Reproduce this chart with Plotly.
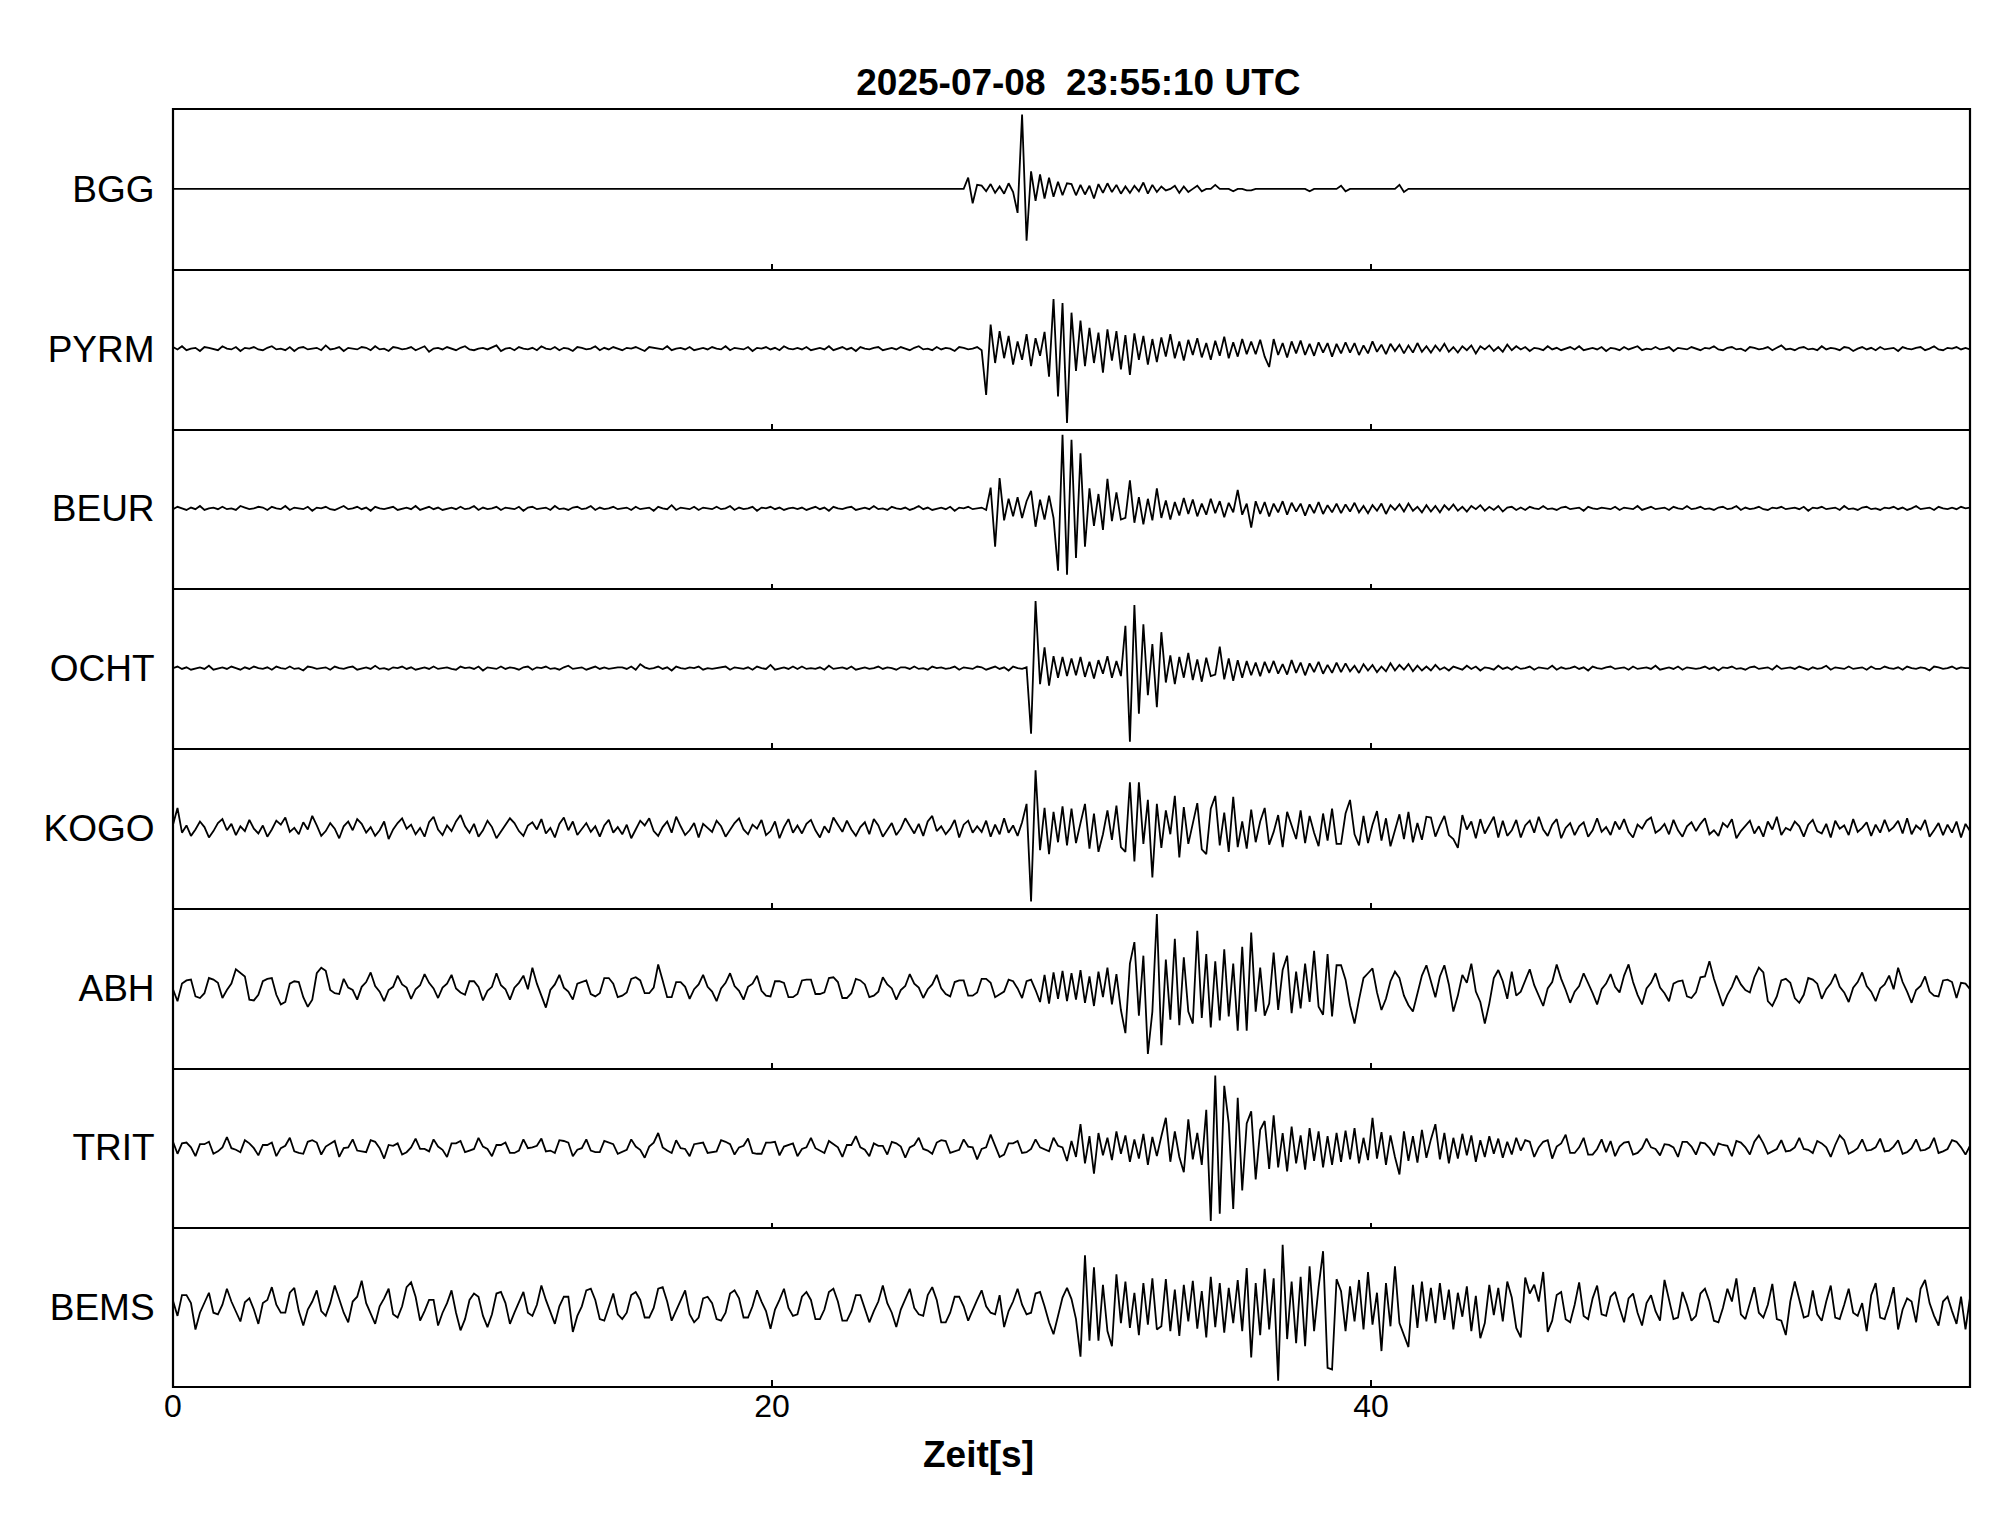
import plotly.graph_objects as go
from plotly.subplots import make_subplots

# sample spacing of the traces, seconds
DT = 0.15
STATIONS = ["BGG", "PYRM", "BEUR", "OCHT", "KOGO", "ABH", "TRIT", "BEMS"]
X_TICKS = [0, 20, 40]
TITLE = "2025-07-08\u00a0\u00a023:55:10 UTC"
X_LABEL = "Zeit[s]"

# amplitudes, percent of half a panel; one row = 3 s
BGG = [
    0, 0, 0, 0, 0, 0, 0, 0, 0, 0, 0, 0, 0, 0, 0, 0, 0, 0, 0, 0,
    0, 0, 0, 0, 0, 0, 0, 0, 0, 0, 0, 0, 0, 0, 0, 0, 0, 0, 0, 0,
    0, 0, 0, 0, 0, 0, 0, 0, 0, 0, 0, 0, 0, 0, 0, 0, 0, 0, 0, 0,
    0, 0, 0, 0, 0, 0, 0, 0, 0, 0, 0, 0, 0, 0, 0, 0, 0, 0, 0, 0,
    0, 0, 0, 0, 0, 0, 0, 0, 0, 0, 0, 0, 0, 0, 0, 0, 0, 0, 0, 0,
    0, 0, 0, 0, 0, 0, 0, 0, 0, 0, 0, 0, 0, 0, 0, 0, 0, 0, 0, 0,
    0, 0, 0, 0, 0, 0, 0, 0, 0, 0, 0, 0, 0, 0, 0, 0, 0, 0, 0, 0,
    0, 0, 0, 0, 0, 0, 0, 0, 0, 0, 0, 0, 0, 0, 0, 0, 0, 0, 0, 0,
    0, 0, 0, 0, 0, 0, 0, 0, 0, 0, 0, 0, 0, 0, 0, 0, 0, 14, -18, 5,
    4, -3, 6, -5, 3, -6, 7, -4, -30, 93, -65, 22, -15, 18, -12, 14, -10, 9, -8, 7,
    6, -8, 5, -7, 4, -12, 6, -5, 7, -4, 5, -6, 3, -5, 4, -3, 8, -6, 5, -4,
    3, -2, 0, 4, -5, 3, -4, 0, 4, -3, 0, 0, 5, 0, 0, 0, -3, 0, 0, -2,
    -2, 0, 0, 0, 0, 0, 0, 0, 0, 0, 0, 0, 0, -3, 0, 0, 0, 0, 0, 0,
    4, -3, 0, 0, 0, 0, 0, 0, 0, 0, 0, 0, 0, 5, -4, 0, 0, 0, 0, 0,
    0, 0, 0, 0, 0, 0, 0, 0, 0, 0, 0, 0, 0, 0, 0, 0, 0, 0, 0, 0,
    0, 0, 0, 0, 0, 0, 0, 0, 0, 0, 0, 0, 0, 0, 0, 0, 0, 0, 0, 0,
    0, 0, 0, 0, 0, 0, 0, 0, 0, 0, 0, 0, 0, 0, 0, 0, 0, 0, 0, 0,
    0, 0, 0, 0, 0, 0, 0, 0, 0, 0, 0, 0, 0, 0, 0, 0, 0, 0, 0, 0,
    0, 0, 0, 0, 0, 0, 0, 0, 0, 0, 0, 0, 0, 0, 0, 0, 0, 0, 0, 0,
    0, 0, 0, 0, 0, 0, 0, 0, 0, 0, 0, 0, 0, 0, 0, 0, 0, 0, 0, 0,
    0,
]

PYRM = [
    2, -1, 3, -2, 0, 1, -3, 2, 1, -1, -2, 3, 0, -1, 2, -3, 1, 0, 2, -1,
    -2, 1, 3, -1, 0, -2, 2, -3, 1, 2, -1, 0, 1, -2, 4, -1, 0, 2, -3, 1,
    0, -1, 2, 1, -2, 3, -1, 0, -3, 2, 1, -1, 0, 2, -2, 1, 3, -4, 0, 1,
    -1, 2, 0, -2, 1, 3, -1, -2, 0, 1, -1, 2, 4, -3, 0, 1, -2, 2, 0, -1,
    1, -2, 3, 0, -1, 2, -2, 1, 0, -3, 2, 1, -1, 0, 3, -2, 1, -1, 2, 0,
    -2, 1, 0, 2, -1, -3, 2, 1, 0, -1, 3, -2, 0, 1, -1, 2, -2, 0, 1, -1,
    2, 0, -1, 3, -2, 1, 0, -1, 2, -3, 1, 0, 2, -1, 1, -2, 3, 0, -1, 1,
    -1, 2, -2, 0, 1, -1, 3, -2, 0, 2, -1, 1, -3, 2, 0, -1, 1, 2, -2, 0,
    1, -1, 2, 0, -2, 1, 3, -1, 0, -2, 2, -1, 1, 0, -3, 2, 1, -1, 0, 2,
    -2, -58, 30, -18, 22, -12, 16, -20, 9, -14, 18, -22, 13, -9, 21, -35, 62, -60, 57, -93,
    45, -28, 35, -22, 26, -18, 20, -30, 24, -15, 22, -26, 17, -33, 19, -14, 16, -20, 12, -17,
    14, -10, 18, -12, 9, -15, 11, -8, 13, -11, 7, -14, 10, -9, 15, -12, 8, -10, 12, -7,
    9, -7, 11, -10, -23, 12, -8, 7, -11, 9, -6, 10, -8, 6, -9, 8, -5, 7, -10, 6,
    -6, 8, -5, 7, -8, 4, -6, 9, -4, 5, -7, 6, -3, 5, -6, 4, -5, 7, -4, 3,
    -5, 4, -3, 6, -4, 2, -5, 3, -2, 4, -6, 3, -1, 4, -3, 2, -4, 5, -2, 3,
    -1, 2, -3, 1, 0, -2, 3, -1, 1, -2, 0, 2, -1, 3, -2, 0, 1, -1, 2, -3,
    1, 0, -2, 2, -1, 1, 3, -2, 0, -1, 2, -1, 0, 2, -3, 1, 0, -1, 2, 0,
    -2, 1, 0, 3, -1, -2, 1, 2, -1, 0, -3, 2, 1, -1, 0, 2, -2, 1, 4, -1,
    0, -2, 1, 2, -1, 0, -2, 3, -1, 1, 0, -2, 2, 1, -3, 0, 2, -1, 1, -2,
    2, -1, 0, 1, -3, 2, 0, -1, 1, 2, -2, 0, 3, -1, -2, 1, 0, 2, -1, 1,
    -1,
]

BEUR = [
    -1, 2, 0, -2, 1, -1, 3, -2, 0, 1, -1, 2, -1, 0, -2, 3, 1, -1, 0, 2,
    1, -2, 2, 0, -1, 3, -2, 1, 0, -1, 2, -3, 1, 0, 2, -1, -2, 1, 3, -1,
    0, 2, -1, 1, -3, 2, 0, -1, 1, 2, -2, 0, 1, -1, 3, -2, 0, 2, -1, 1,
    -2, 0, 1, -1, 2, -1, 0, 3, -2, 1, -1, 0, 2, -2, 1, 0, -1, 2, -3, 1,
    2, -1, 0, 1, -2, 3, -1, 0, -2, 1, 2, -1, 0, 3, -2, 1, -1, 0, 2, -1,
    0, 1, -2, 2, -1, 0, 1, -3, 2, 0, -1, 4, -2, 1, 0, -1, 2, -2, 1, 0,
    -1, 2, -1, 0, 3, -2, 1, -1, 0, 2, -3, 1, 0, 2, -1, 1, -2, 0, 1, -1,
    1, -2, 0, 2, -1, 1, -3, 2, 0, -1, 1, 2, -2, 0, 1, -1, 3, -1, 0, -2,
    2, 0, -1, 1, -2, 0, 3, -1, 1, -2, 0, 1, -1, 2, -3, 1, 0, 2, -1, 0,
    1, -2, 26, -48, 38, -15, 12, -10, 14, -12, 9, 22, -23, 11, -14, 16, -12, -78, 92, -83,
    86, -62, 69, -48, 25, -22, 18, -27, 37, -16, 20, -14, -12, 35, -18, 14, -20, 12, -15, 25,
    -12, 10, -14, 8, -9, 13, -7, 11, -10, 6, -8, 12, -6, 9, -11, 7, -5, 23, -8, 6,
    -24, 9, -7, 8, -10, 6, -5, 9, -8, 7, -4, 6, -9, 5, -6, 8, -7, 4, -5, 6,
    -6, 5, -4, 7, -5, 3, -6, 4, -3, 6, -7, 4, -2, 5, -4, 6, -3, 2, -5, 4,
    -4, 3, -5, 4, -2, 5, -3, 2, -4, 3, -1, 4, -3, 2, -2, 3, -4, 1, 2, -2,
    1, -2, 2, 0, -1, 3, -1, 0, -2, 1, 2, -1, 0, 1, -3, 2, 0, -1, 1, 0,
    -1, 2, -2, 1, 0, -1, 3, -2, 0, 2, -1, 0, 1, -2, 2, 0, -1, 3, -1, 0,
    2, -1, 0, -2, 1, 2, -1, 0, 3, -2, 1, -1, 0, 2, -1, -2, 1, 0, 2, -1,
    0, 1, -1, 2, -3, 1, 0, 2, -1, 0, 1, -2, 3, -1, 0, -2, 1, 2, -1, 0,
    -2, 1, 0, 2, -1, 1, -2, 0, 3, -1, 0, 1, -2, 2, 0, -1, 1, -1, 2, 0,
    1,
]

OCHT = [
    0, 2, -1, 1, -2, 0, 1, -1, 3, -2, 0, 1, -1, 2, 0, -2, 1, -1, 2, 0,
    -1, 1, -2, 2, 0, -1, 2, -1, 0, -3, 2, 1, -1, 0, 1, -2, 2, 0, -1, 1,
    2, -2, 0, 1, -1, 3, -1, 0, -2, 1, 0, 2, -1, 1, -2, 0, 1, -1, 2, -1,
    0, 1, -1, -2, 2, 0, 1, -1, 2, -3, 1, 0, -1, 2, -1, 1, 0, -2, 1, 2,
    -2, 1, 0, 2, -1, 0, -2, 1, 3, -1, 0, 1, -2, 0, 2, -1, 1, -1, 0, 1,
    1, -1, 2, -2, 5, 1, -1, 0, 2, -1, 1, -3, 2, 0, -1, 1, 0, 2, -2, 0,
    -1, 0, 1, 2, -2, 1, 0, -1, 1, -2, 2, 0, -1, 4, -2, 0, 1, -1, 2, -1,
    2, -1, 0, -1, 1, -2, 3, -1, 0, 1, -1, 2, -2, 0, 1, -1, 0, 2, -1, 1,
    0, -2, 1, 1, -1, 2, -1, 0, -2, 2, 0, 1, -1, 0, 2, -2, 1, 0, -1, 2,
    1, -2, 0, 2, -1, 1, -3, 2, 0, -1, 1, -82, 84, -20, 26, -22, 15, -12, 14, -10,
    12, -9, 14, -11, 8, -13, 10, -7, 15, -12, 9, -10, 53, -92, 79, -57, 55, -34, 30, -49,
    45, -18, 16, -20, 14, -12, 19, -15, 11, -17, 13, -10, -8, 27, -14, 12, -16, 10, -12, 9,
    -9, 7, -10, 8, -6, 9, -7, 5, -8, 10, -6, 7, -9, 6, -5, 8, -7, 4, -6, 7,
    -5, 6, -4, 3, -6, 5, -3, 4, -5, 2, -4, 6, -3, 4, -2, 5, -4, 3, -3, 2,
    -3, 4, -2, 1, -3, 2, 0, -2, 3, -1, 2, -3, 1, 0, -2, 3, -1, 1, -2, 2,
    -1, 0, 2, -2, 1, 0, -1, 3, -2, 1, -1, 0, 2, -1, 1, -3, 2, 0, -1, 1,
    2, -1, 0, 1, -2, 2, -1, 0, 1, -1, 3, -2, 0, 1, -1, 2, -2, 1, 0, -1,
    0, 2, -1, 1, -3, 1, 0, 2, -1, 0, -2, 1, 2, -1, 0, 1, -2, 3, -1, 0,
    1, -1, 2, 0, -2, 1, -1, 0, 3, -2, 1, 0, -1, 2, -1, 0, 1, -2, 2, -1,
    -1, 2, 0, -1, 1, -2, 2, 0, -1, 1, 0, -3, 2, 1, -1, 0, 2, -1, 1, 0,
    0,
]

KOGO = [
    4, 25, -6, 3, -10, -2, 8, 1, -12, -4, 6, 11, -3, 5, -9, 2, -4, 10, -1, -7,
    3, -11, -2, 9, 4, 13, -5, 0, -8, 7, -2, 15, 3, -10, -4, 6, -1, -13, 2, 8,
    -3, 11, 5, -6, 1, -10, -3, 8, -14, -2, 6, 12, -1, 4, -8, 0, -11, 7, 14, -2,
    -9, 3, -4, 8, 16, 2, -6, 5, -11, -3, 9, 1, -13, -5, 4, 12, 6, -4, -10, 3,
    7, -2, 11, -7, 0, -12, 5, 13, -3, 8, -9, -1, 6, -5, 2, -11, 3, 10, -6, 1,
    -8, 4, -13, -2, 9, 3, 12, -4, -10, 1, 8, -6, 14, 2, -9, -3, 6, -12, 5, 0,
    -5, 9, 2, -11, -3, 6, 12, -2, -8, 4, -1, 10, -9, -4, 8, -13, 1, 11, -6, 3,
    -7, 5, 10, -3, -12, 2, -6, 13, 4, -5, 9, -2, -10, 1, 7, -8, 11, 3, -11, -2,
    6, -9, -1, 12, 3, -7, 5, -10, 8, 15, -4, 2, -8, -1, 10, -12, 4, 9, -6, 2,
    -5, 9, -11, 4, -8, 12, -6, 3, -10, 7, 30, -92, 72, -28, 25, -33, 20, -18, 27, -22,
    24, -19, 6, 30, -26, 18, -30, -8, 22, -15, 28, -24, -30, 57, -42, 57, -20, 35, -62, 30,
    -25, 22, -8, 40, -37, 26, -20, 5, 31, -27, -33, 24, 40, -22, 19, -30, 39, -24, 8, -26,
    23, -18, 8, 25, -21, -5, 16, -24, 20, 3, -14, 22, -19, 15, -6, -23, 18, -16, 24, -20,
    -20, 18, 35, -8, -22, 15, -19, 4, 21, -16, 12, -23, -3, 17, -14, 20, -18, 6, -15, 14,
    13, -11, 3, 15, -9, -14, -25, 16, -2, 8, -13, 11, -7, 4, 14, -12, 9, -10, -3, 10,
    -12, 3, 9, -6, 14, -2, -10, 4, 11, -13, 0, 6, -9, 2, 7, -11, -3, 12, -5, 1,
    -9, 8, -2, 11, -5, -12, 4, -1, 9, 13, -6, -2, 5, -8, 10, -3, -11, 2, 7, -4,
    5, 12, -8, -3, -10, 6, 1, 11, -13, -4, 3, 9, -7, 2, -11, 8, -2, 14, -9, 0,
    -3, 8, 2, -11, 4, 10, -4, -7, 5, -12, 9, -1, 3, -9, 11, -5, 0, 7, -10, 4,
    -6, 10, -4, 1, 9, -7, 12, -8, 3, -2, 10, -11, -3, 6, -9, 4, -6, 8, -12, 5,
    -4,
]

ABH = [
    -2, -17, 5, 9, 10, -11, -13, -7, 12, 10, 6, -13, -3, 5, 23, 19, 14, -15, -16, -9,
    8, 11, 12, -9, -21, -18, 5, 8, 7, -12, -24, -15, 18, 25, 21, -3, -7, -8, 11, 0,
    -3, -15, 1, 7, 19, 2, -5, -17, -3, 1, 15, 4, 0, -14, -2, 3, 17, 6, -1, -13,
    0, 5, 16, -1, -6, -9, 8, 8, 1, -16, -4, 1, 18, 3, -2, -15, 0, 6, 15, -2,
    25, 5, -11, -25, -3, 4, 16, 0, -5, -15, 5, 7, 9, -8, -11, -7, 12, 12, 5, -12,
    -10, -6, 11, 13, 9, -7, -7, 0, 29, 9, -12, -12, 7, 7, 1, -14, -2, 4, 16, 1,
    -5, -17, -1, 6, 18, 2, -4, -15, 1, 5, 15, -4, -10, -11, 8, 8, 6, -12, -12, -8,
    9, 10, 10, -8, -8, -6, 12, 13, 7, -13, -13, -7, 11, 9, 4, -12, -10, -5, 13, 4,
    -1, -15, -3, 2, 17, 5, 0, -13, -2, 4, 16, -1, -8, -11, 7, 9, 9, -10, -10, -6,
    11, 11, 6, -12, -9, -5, 10, 8, -1, -13, 8, 10, -3, -18, 16, -20, 19, -14, 21, -17,
    18, -15, 22, -19, 14, -23, 20, -12, 25, -21, 17, -28, -57, 30, 57, -35, 40, -83, -30, 92,
    -72, 35, -40, 61, -47, 38, -30, -45, 71, -38, 42, -50, 33, -41, 48, -36, 30, -54, 51, -54,
    69, -30, 25, -35, -20, 44, -28, 22, 40, -32, 20, -26, 30, -18, 46, -24, -34, 42, -36, 28,
    28, 10, -22, -45, -15, 12, 18, 24, -6, -28, -14, 8, 20, 12, -10, -22, -30, -8, 15, 28,
    8, -12, 14, 28, 4, -30, -10, 16, 6, 30, -5, -18, -45, -20, 12, 22, 8, -14, 20, -10,
    -5, 9, 23, 3, -11, -23, -1, 7, 29, 11, -3, -19, -5, 2, 18, 6, -7, -21, -2, 5,
    17, 1, -6, 15, 29, 7, -9, -21, -1, 6, 18, 0, -7, -17, 5, 8, 9, -11, -13, -6,
    13, 14, 33, 11, -5, -23, -9, 1, 15, 4, -3, -6, 13, 25, 19, -17, -23, -11, 9, 11,
    6, -13, -19, -9, 12, 10, 5, -14, -2, 5, 17, 1, -6, -18, 0, 7, 19, 2, -5, -17,
    -1, 4, 15, -2, 25, 7, -5, -19, -3, 2, 14, -5, -10, -11, 9, 10, 7, -13, 6, 5,
    -2,
]

TRIT = [
    7, -8, 5, 6, 0, -11, 4, 4, 7, -8, -5, 0, 13, -1, -3, -6, 9, 5, -1, -10,
    3, 3, 6, -11, -1, 2, 12, -5, -7, -8, 7, 9, 6, -9, 1, 5, 8, -12, -1, 0,
    10, -4, -5, -6, 9, 7, -1, -14, 3, 2, 5, -9, -6, 0, 11, -2, -2, -5, 10, 1,
    -3, -12, 5, 5, 8, -6, -4, -2, 12, 1, -2, -11, 3, 3, 6, -7, -7, -4, 10, -1,
    0, 2, 11, -5, -4, -7, 9, 8, 6, -11, -3, -1, 10, -4, -6, -6, 8, 6, 4, -8,
    -5, -3, 10, 1, -3, -13, 1, 6, 18, 0, -4, -7, 9, -1, -2, -11, 4, 5, 6, -7,
    -6, -5, 9, 7, 4, -9, 0, 2, 11, -7, -8, -8, 6, 6, 7, -10, 1, 3, 5, -11,
    -2, 0, 12, -1, -4, -7, 8, 4, 0, -12, 3, 3, 14, 0, -3, -11, 5, 2, 2, -9,
    7, 5, 1, -13, 0, 3, 12, -2, -4, -8, 6, 9, 8, -7, -5, -3, 10, 1, 0, -15,
    -2, 0, 16, 1, -12, -9, 5, 5, 8, -7, -6, -2, 10, 0, -3, -5, 12, 2, 0, -17,
    8, -12, 29, -20, 14, -33, 18, -10, 12, -16, 20, -8, 15, -18, 10, -14, 17, -22, 13, -11,
    14, 37, -18, 20, -12, -31, 35, -15, 18, -22, 47, -92, 90, -83, 77, 30, -77, 62, -54, 30,
    45, -40, 22, 33, -27, 40, -25, 18, -30, 26, -20, 15, -28, 24, -17, 20, -25, 14, -22, 18,
    -18, 21, -15, 24, -20, 12, -16, 37, -14, 19, -22, 15, -12, -34, 20, -17, 14, -19, 22, -13,
    10, 29, -15, 18, -20, 12, -14, 17, -10, 15, -18, 9, -12, 14, -8, 11, -13, 7, -9, 12,
    -4, 9, 7, -12, 0, 7, 9, -14, 1, 5, 16, -7, -7, 0, 12, -9, -9, -2, 10, -6,
    8, -11, 1, 6, 7, -9, -7, -1, 11, 0, -2, -10, 4, 3, 0, -12, 7, 7, 1, -9,
    6, 5, -1, -10, 5, 3, 2, -11, 8, 6, 0, -9, 7, 15, 5, -8, -5, -2, 9, -5,
    -4, 0, 12, -2, -3, -7, 8, 5, 0, -12, 3, 15, 9, -8, -5, -1, 10, -4, -3, 0,
    11, -5, -4, 1, 9, -8, -6, -1, 10, -4, -3, 0, 12, -7, -5, -2, 9, 7, 0, -9,
    2,
]

BEMS = [
    8, -11, 15, 15, 5, -28, -7, 5, 18, -7, -9, 3, 23, 7, -5, -18, 6, 11, -3, -21,
    5, 9, 25, 3, -7, -7, 18, 24, -5, -23, -3, 7, 21, -5, -11, 5, 27, 9, -7, -19,
    7, 13, 33, 5, -9, -21, 1, 11, 23, -9, -13, 1, 25, 31, 13, -17, -5, 9, 9, -23,
    -7, 5, 21, -7, -29, -15, 9, 17, 13, -11, -25, -9, 17, 19, 5, -21, -7, 5, 19, -7,
    -11, 3, 27, 9, -5, -21, 1, 13, 13, -31, -11, 1, 21, 23, 9, -15, -17, -1, 17, -9,
    -15, -7, 15, 19, 9, -13, -13, -1, 23, 25, 7, -17, -5, 7, 21, -9, -19, -13, 11, 13,
    5, -15, -17, -7, 17, 21, 11, -13, -13, 1, 21, 7, -5, -27, -3, 9, 23, -1, -11, -9,
    13, 19, 9, -15, -15, -3, 19, 23, 7, -17, -17, -5, 15, 15, -1, -19, -5, 7, 27, 5,
    -7, -25, -3, 11, 23, -1, -9, -11, 15, 25, 9, -19, -19, -7, 13, 13, 1, -17, -3, 9,
    21, 1, -7, -9, 15, -25, -5, 7, 23, 3, -9, -7, 17, 19, 1, -19, -34, -10, 12, 24,
    10, -15, -62, 65, -42, 50, -42, 28, -30, -49, 41, -20, 32, -26, 18, -35, 30, -22, 36, -28,
    -24, 35, -30, 22, -36, 28, -18, 33, -27, 20, -38, 38, -25, 30, -32, 24, -20, 34, -30, 49,
    -63, 30, -35, 48, -28, 36, -92, 78, -40, 32, -45, 38, -49, 51, -30, 25, 70, -76, -78, 35,
    20, -30, 26, -18, 34, -28, 44, -22, 18, -55, 30, -24, 51, -20, -36, -50, 28, -26, 32, -18,
    24, -20, 30, -16, 22, -28, 18, -12, 26, -30, 14, -39, -20, 28, -10, 24, -18, 32, 12, -26,
    -38, 37, 17, 28, 7, 44, -31, -17, 15, 19, -15, -19, 3, 31, -11, -15, 11, 27, -9, -11,
    13, 19, -1, -19, 11, 17, -7, -23, 5, 15, -5, -17, 34, 9, -15, -13, 19, 3, -17, -11,
    17, 23, 7, -17, -19, -1, 23, 7, 36, -9, -15, 5, 25, -7, -13, 3, 29, -15, -17, -35,
    7, 32, 9, -13, -11, 21, -9, -17, 7, 27, -13, -15, 3, 23, -7, -11, 5, -30, 15, 30,
    -13, -15, 3, 25, -28, -3, 11, 7, -19, 23, 34, 5, -11, -23, 7, 13, -5, -21, 13, -28,
    12,
]

TRACES = {
    "BGG": BGG, "PYRM": PYRM, "BEUR": BEUR, "OCHT": OCHT,
    "KOGO": KOGO, "ABH": ABH, "TRIT": TRIT, "BEMS": BEMS,
}

FONT = "Liberation Sans, Arial, Helvetica, sans-serif"
n_rows = len(STATIONS)

fig = make_subplots(rows=n_rows, cols=1, shared_xaxes=True, vertical_spacing=0)

for row, name in enumerate(STATIONS, start=1):
    amp = TRACES[name]
    t = [round(i * DT, 2) for i in range(len(amp))]
    fig.add_trace(
        go.Scatter(x=t, y=amp, mode="lines", line=dict(color="black", width=1.8),
                   showlegend=False, hoverinfo="skip"),
        row=row, col=1,
    )
    last = row == n_rows
    fig.update_xaxes(
        range=[0, 60], tickvals=X_TICKS, ticks="inside",
        ticklen=7 if last else 5, tickwidth=2, tickcolor="black",
        showticklabels=last, ticklabelstandoff=-3,
        tickfont=dict(size=32, color="black", family=FONT),
        showgrid=False, zeroline=False, showline=not last,
        linecolor="black", linewidth=1.5,
        row=row, col=1,
    )
    fig.update_yaxes(
        range=[-100, 100], tickvals=[0], ticktext=[name],
        ticks="outside", ticklen=10, tickcolor="rgba(0,0,0,0)",
        tickfont=dict(size=37, color="black", family=FONT),
        showgrid=False, zeroline=False, showline=False,
        row=row, col=1,
    )

# outer frame around the stacked panels
fig.add_shape(type="rect", xref="paper", yref="paper", x0=0, y0=0, x1=1, y1=1,
              line=dict(color="black", width=2.2), layer="above")

fig.update_layout(
    width=1997,
    height=1514,
    margin=dict(l=165, r=35, t=101, b=135),
    paper_bgcolor="white",
    plot_bgcolor="white",
    font=dict(family=FONT, color="black"),
    title=dict(
        text=f"<b>{TITLE}</b>",
        x=0.536, xanchor="center", xref="container",
        y=1 - 74 / 1514, yanchor="middle", yref="container",
        font=dict(size=37, color="black", family=FONT),
    ),
    annotations=[
        dict(
            text=f"<b>{X_LABEL}</b>", xref="paper", yref="paper",
            x=0.448, y=-0.053, xanchor="center", yanchor="middle",
            showarrow=False, font=dict(size=37, color="black", family=FONT),
        )
    ],
)

fig.write_html("out.html")
